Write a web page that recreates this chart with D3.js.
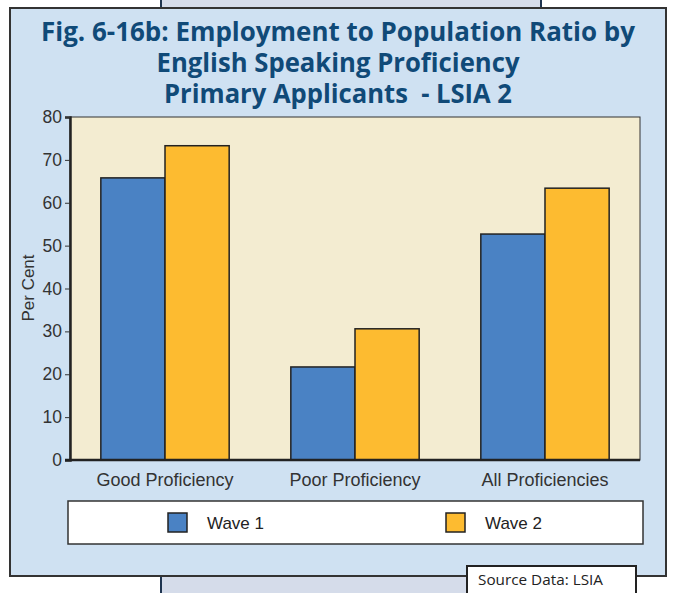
<!DOCTYPE html>
<html>
<head>
<meta charset="utf-8">
<script src="https://cdn.jsdelivr.net/npm/d3@7/dist/d3.min.js"></script>
<style>
  body { margin: 0; background: #fff; }
  svg { display: block; }
</style>
</head>
<body>
<div id="chart"></div>
<script>
var categories = ["Good Proficiency", "Poor Proficiency", "All Proficiencies"];
var seriesNames = ["Wave 1", "Wave 2"];
var wave1 = [65.8, 21.7, 52.7];
var wave2 = [73.3, 30.6, 63.4];
var yTicks = [0, 10, 20, 30, 40, 50, 60, 70, 80];
var titleLines = ["Fig. 6-16b: Employment to Population Ratio by",
                  "English Speaking Proficiency",
                  "Primary Applicants  - LSIA 2"];
var titleWidths = [594, 363, 348];

var width = 674, height = 593;
var colors = ["#4a82c4", "#fdbb30"];

var svg = d3.select("#chart").append("svg")
  .attr("width", width)
  .attr("height", height);

// strip behind the panel
svg.append("rect")
  .attr("x", 161).attr("y", -2).attr("width", 380).attr("height", height + 4)
  .style("fill", "#d5dcea").style("stroke", "#1f3550").style("stroke-width", 2);

// main panel
svg.append("rect")
  .attr("x", 10).attr("y", 8).attr("width", 656).attr("height", 568)
  .style("fill", "#cfe1f2").style("stroke", "#333").style("stroke-width", 2);

// title
svg.append("g").selectAll("text")
  .data(titleLines)
  .enter().append("text")
  .attr("x", 338)
  .attr("y", function(d, i) { return 41 + i * 31; })
  .attr("text-anchor", "middle")
  .attr("textLength", function(d, i) { return titleWidths[i]; })
  .attr("lengthAdjust", "spacingAndGlyphs")
  .style("white-space", "pre")
  .style("font-family", "'Open Sans', sans-serif")
  .style("font-weight", "bold")
  .style("font-size", "27px")
  .style("fill", "#104a78")
  .text(function(d) { return d; });

var margin = { left: 70, top: 117, right: 640, bottom: 460 };

var x = d3.scaleBand()
  .domain(categories)
  .range([margin.left, margin.right])
  .paddingInner(0.3245)
  .paddingOuter(0.1623);

var x1 = d3.scaleBand()
  .domain(seriesNames)
  .range([0, x.bandwidth()]);

var y = d3.scaleLinear()
  .domain([0, 80])
  .range([margin.bottom, margin.top]);

// plot area
svg.append("rect")
  .attr("x", margin.left).attr("y", margin.top)
  .attr("width", margin.right - margin.left).attr("height", margin.bottom - margin.top)
  .style("fill", "#f3ecd1").style("stroke", "#333").style("stroke-width", 1);

var rows = categories.map(function(c, i) {
  return { cat: c, values: [wave1[i], wave2[i]] };
});

var g = svg.selectAll(".cat")
  .data(rows)
  .enter().append("g")
  .attr("class", "cat")
  .attr("transform", function(d) { return "translate(" + x(d.cat) + ",0)"; });

g.selectAll("rect")
  .data(function(d) { return d.values.map(function(v, j) { return { s: seriesNames[j], v: v, j: j }; }); })
  .enter().append("rect")
  .attr("x", function(d) { return x1(d.s); })
  .attr("y", function(d) { return y(d.v); })
  .attr("width", x1.bandwidth())
  .attr("height", function(d) { return y(0) - y(d.v); })
  .style("fill", function(d) { return colors[d.j]; })
  .style("stroke", "#222")
  .style("stroke-width", 1.5);

// y axis
var yAxis = svg.append("g")
  .attr("transform", "translate(" + margin.left + ",0)")
  .call(d3.axisLeft(y).tickValues(yTicks).tickSize(5).tickPadding(3));
yAxis.select(".domain").style("stroke", "#222").style("stroke-width", 2.5);
yAxis.selectAll(".tick line").style("stroke", "#333");
yAxis.selectAll("text")
  .style("font-family", "'Liberation Sans', Arial, sans-serif")
  .style("font-size", "17.5px")
  .style("fill", "#333");

// x axis baseline
svg.append("line")
  .attr("x1", margin.left - 5).attr("x2", margin.right)
  .attr("y1", y(0)).attr("y2", y(0))
  .style("stroke", "#222").style("stroke-width", 2.5);

svg.append("g").selectAll("text")
  .data(categories)
  .enter().append("text")
  .attr("x", function(d) { return x(d) + x.bandwidth() / 2; })
  .attr("y", 486)
  .attr("text-anchor", "middle")
  .style("font-family", "'Liberation Sans', Arial, sans-serif")
  .style("font-size", "18px")
  .style("fill", "#333")
  .text(function(d) { return d; });

svg.append("text")
  .attr("transform", "translate(34,288) rotate(-90)")
  .attr("text-anchor", "middle")
  .style("font-family", "'Liberation Sans', Arial, sans-serif")
  .style("font-size", "17px")
  .style("fill", "#333")
  .text("Per Cent");

// legend
svg.append("rect")
  .attr("x", 68).attr("y", 501).attr("width", 575).attr("height", 43)
  .style("fill", "#fff").style("stroke", "#333").style("stroke-width", 1.5);

var legendX = [168, 446];
var lg = svg.selectAll(".leg")
  .data(seriesNames)
  .enter().append("g")
  .attr("class", "leg")
  .attr("transform", function(d, i) { return "translate(" + legendX[i] + ",513)"; });
lg.append("rect")
  .attr("width", 19).attr("height", 19)
  .style("fill", function(d, i) { return colors[i]; })
  .style("stroke", "#222").style("stroke-width", 1.5);
lg.append("text")
  .attr("x", 39).attr("y", 16)
  .style("font-family", "'Liberation Sans', Arial, sans-serif")
  .style("font-size", "17px")
  .style("fill", "#222")
  .text(function(d) { return d; });

// source box
svg.append("rect")
  .attr("x", 467).attr("y", 566).attr("width", 169).attr("height", 34)
  .style("fill", "#fff").style("stroke", "#222").style("stroke-width", 2);
svg.append("text")
  .attr("x", 478).attr("y", 585)
  .attr("textLength", 125)
  .attr("lengthAdjust", "spacingAndGlyphs")
  .style("font-family", "'Open Sans', sans-serif")
  .style("font-size", "15px")
  .style("fill", "#222")
  .text("Source Data: LSIA");
</script>
</body>
</html>
